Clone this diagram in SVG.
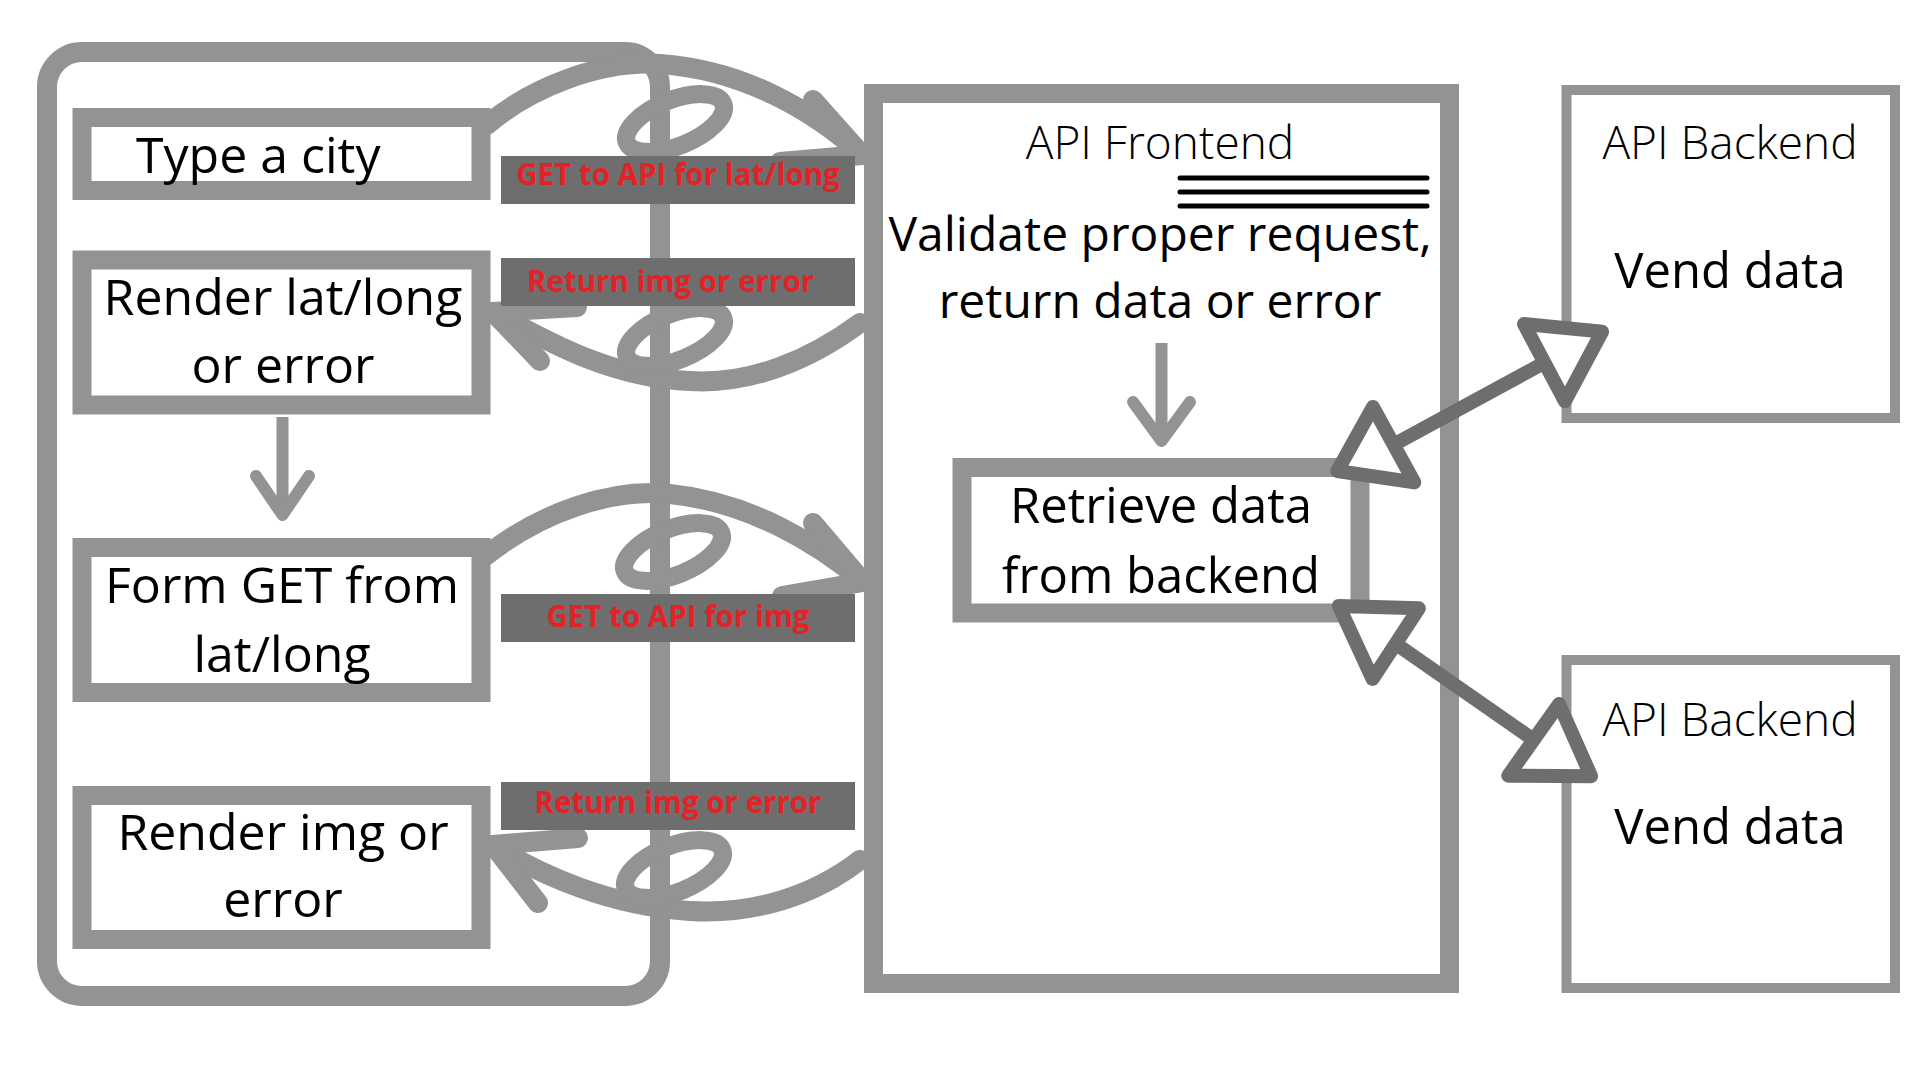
<svg xmlns="http://www.w3.org/2000/svg" width="1920" height="1080" viewBox="0 0 1920 1080">
  <style>
    .box { fill: #ffffff; stroke: #939393; stroke-width: 19; }
    .bbox { fill: #ffffff; stroke: #939393; stroke-width: 10; }
    .frame { fill: none; stroke: #939393; stroke-width: 20; }
    .curl { fill: none; stroke: #939393; stroke-width: 20; stroke-linecap: round; stroke-linejoin: round; }
    .loop { fill: none; stroke: #939393; stroke-width: 18; }
    .down { fill: none; stroke: #939393; stroke-width: 12; stroke-linecap: round; stroke-linejoin: round; }
    .stem { fill: none; stroke: #939393; stroke-width: 12; }
    .tag { fill: #6e6e6e; }
    .tagtxt { font-family: "Open Sans", "Liberation Sans", sans-serif; font-weight: 700; font-size: 29.5px; fill: #e32227; }
    .txt { font-family: "Open Sans", "Liberation Sans", sans-serif; font-size: 49px; fill: #000000; text-anchor: middle; }
    .ftxt { font-family: "Open Sans", "Liberation Sans", sans-serif; font-size: 48px; fill: #000000; text-anchor: middle; }
    .ltxt { font-family: "Open Sans", "Liberation Sans", sans-serif; font-size: 50px; fill: #000000; text-anchor: middle; }
    .title { font-family: "Open Sans", "Liberation Sans", sans-serif; font-weight: 300; font-size: 46px; fill: #000000; text-anchor: middle; }
    .link { fill: none; stroke: #6e6e6e; stroke-width: 14; stroke-linecap: round; }
    .head { fill: #ffffff; stroke: #6e6e6e; stroke-width: 14; stroke-linejoin: round; }
    .rule { stroke: #000000; stroke-width: 5; stroke-linecap: round; }
  </style>
  <rect width="1920" height="1080" fill="#ffffff"/>

  <g id="client-frame">
    <rect class="frame" x="47" y="52" width="613" height="944" rx="35" ry="35"/>
  </g>

  <g id="connectors">
    <!-- GET to API for lat/long -->
    <path class="curl" d="M487,125 C530,88 600,60 660,64 C745,70 815,112 862,155"/>
    <path class="curl" d="M813,100 L862,155 L780,162"/>
    <ellipse class="loop" cx="675" cy="123" rx="52" ry="23" transform="rotate(-22 675 123)"/>
    <!-- Return img or error (upper) -->
    <path class="curl" d="M860,323 C810,360 750,385 690,381 C610,378 545,340 493,312"/>
    <path class="curl" d="M577,307 L493,312 L540,361"/>
    <ellipse class="loop" cx="675" cy="337" rx="52" ry="23" transform="rotate(-22 675 337)"/>
    <!-- GET to API for img -->
    <path class="curl" d="M487,555 C540,513 610,488 670,494 C750,502 820,545 863,582"/>
    <path class="curl" d="M813,523 L863,582 L782,596"/>
    <ellipse class="loop" cx="673" cy="552" rx="52" ry="23" transform="rotate(-22 673 552)"/>
    <!-- Return img or error (lower) -->
    <path class="curl" d="M860,860 C815,895 755,915 690,911 C610,906 540,875 493,845"/>
    <path class="curl" d="M578,838 L493,845 L538,903"/>
    <ellipse class="loop" cx="674" cy="869" rx="52" ry="23" transform="rotate(-22 674 869)"/>
    <!-- left down arrow -->
    <path class="stem" d="M282.5,417 V512"/>
    <path class="down" d="M256,476 L282.5,515 L309,476"/>
  </g>

  <g id="label-get-latlong">
    <rect class="tag" x="501" y="156" width="354" height="48"/>
    <text class="tagtxt" x="678" y="185" text-anchor="middle">GET to API for lat/long</text>
  </g>
  <g id="label-return-1">
    <rect class="tag" x="501" y="258" width="354" height="48"/>
    <text class="tagtxt" x="527" y="292">Return img or error</text>
  </g>
  <g id="label-get-img">
    <rect class="tag" x="501" y="594" width="354" height="48"/>
    <text class="tagtxt" x="678" y="627" text-anchor="middle">GET to API for img</text>
  </g>
  <g id="label-return-2">
    <rect class="tag" x="501" y="782" width="354" height="48"/>
    <text class="tagtxt" x="678" y="813" text-anchor="middle">Return img or error</text>
  </g>

  <g id="type-city">
    <rect class="box" x="82" y="117.5" width="399" height="73"/>
    <text class="ltxt" x="136" y="173" style="text-anchor:start">Type a city</text>
  </g>
  <g id="render-latlong">
    <rect class="box" x="82" y="260" width="399" height="145"/>
    <text class="ltxt" x="283" y="315">Render lat/long</text>
    <text class="ltxt" x="283" y="383">or error</text>
  </g>
  <g id="form-get">
    <rect class="box" x="82" y="547.5" width="399" height="145"/>
    <text class="ltxt" x="282" y="603">Form GET from</text>
    <text class="ltxt" x="282" y="672">lat/long</text>
  </g>
  <g id="render-img">
    <rect class="box" x="82" y="795.5" width="399" height="144"/>
    <text class="ltxt" x="283" y="850">Render img or</text>
    <text class="ltxt" x="283" y="917">error</text>
  </g>

  <g id="api-frontend">
    <rect class="box" x="873.5" y="93.5" width="576" height="890"/>
    <text class="title" x="1160" y="159">API Frontend</text>
    <line class="rule" x1="1180" y1="178" x2="1427" y2="178"/>
    <line class="rule" x1="1180" y1="192" x2="1427" y2="192"/>
    <line class="rule" x1="1180" y1="206" x2="1427" y2="206"/>
    <text class="ftxt" x="1160" y="251">Validate proper request,</text>
    <text class="ftxt" x="1160" y="318">return data or error</text>
    <path class="stem" d="M1161.5,343 V438"/>
    <path class="down" d="M1133,402 L1161.5,441 L1190,402"/>
  </g>

  <g id="retrieve-data">
    <rect class="box" x="962" y="467.5" width="398" height="145.5"/>
    <text class="txt" x="1161" y="523">Retrieve data</text>
    <text class="txt" x="1161" y="593">from backend</text>
  </g>

  <g id="api-backend-1">
    <rect class="bbox" x="1566.5" y="90" width="328.5" height="328"/>
    <text class="title" x="1730" y="159">API Backend</text>
    <text class="txt" x="1730" y="288">Vend data</text>
  </g>
  <g id="api-backend-2">
    <rect class="bbox" x="1566.5" y="660" width="328.5" height="328"/>
    <text class="title" x="1730" y="736">API Backend</text>
    <text class="txt" x="1730" y="844">Vend data</text>
  </g>

  <g id="backend-links">
    <line class="link" x1="1393.7" y1="444.7" x2="1544.5" y2="362.7"/>
    <polygon class="head" points="1373,407 1337.3,471 1414.3,482.4"/>
    <polygon class="head" points="1524,324 1602.1,331.6 1564.9,401.3"/>
    <line class="link" x1="1395.7" y1="643.7" x2="1533.7" y2="739.9"/>
    <polygon class="head" points="1338.8,605.9 1418.8,608.3 1372.6,679"/>
    <polygon class="head" points="1559.1,704 1591.1,776.2 1508.2,775.7"/>
  </g>
</svg>
